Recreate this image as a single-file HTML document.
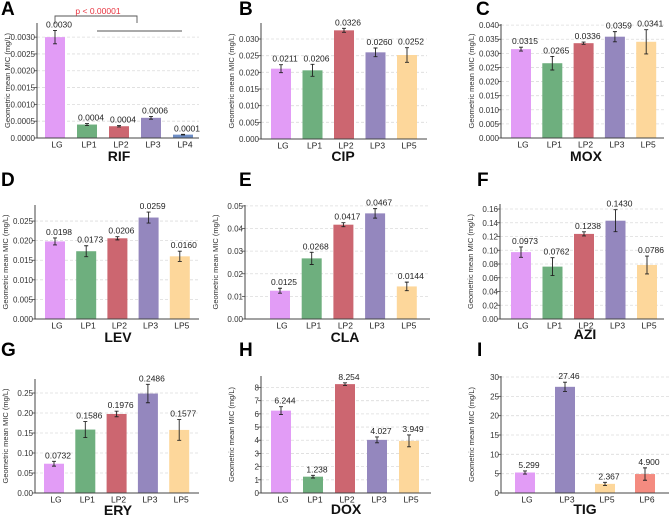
<!DOCTYPE html>
<html><head><meta charset="utf-8">
<style>
html,body{margin:0;padding:0;background:#fff;}
svg{display:block;font-family:"Liberation Sans",Arial,sans-serif;}
</style></head>
<body>
<svg id="fig" width="669" height="515" viewBox="0 0 669 515"></svg>
<script>
// ---- data (per panel) ----
const catsA=["LG","LP1","LP2","LP3","LP4"];
const valsA=[0.0030,0.0004,0.00035,0.0006,0.0001];
const errA=[0.0002,0.00003,0.00002,0.00004,0.00001];
const labsA=["0.0030","0.0004","0.0004","0.0006","0.0001"];
const ticksA=[0,0.0005,0.0010,0.0015,0.0020,0.0025,0.0030];

const catsB=["LG","LP1","LP2","LP3","LP5"];
const valsB=[0.0211,0.0206,0.0326,0.0260,0.0252];
const errB=[0.0012,0.0018,0.0006,0.0013,0.0022];
const labsB=["0.0211","0.0206","0.0326","0.0260","0.0252"];
const ticksB=[0,0.005,0.010,0.015,0.020,0.025,0.030];

const catsC=["LG","LP1","LP2","LP3","LP5"];
const valsC=[0.0315,0.0265,0.0336,0.0359,0.0341];
const errC=[0.0007,0.0024,0.0004,0.0018,0.0043];
const labsC=["0.0315","0.0265","0.0336","0.0359","0.0341"];
const ticksC=[0,0.005,0.010,0.015,0.020,0.025,0.030,0.035,0.040];

const catsD=["LG","LP1","LP2","LP3","LP5"];
const valsD=[0.0198,0.0173,0.0206,0.0259,0.0160];
const errD=[0.0009,0.0014,0.0004,0.0014,0.0013];
const labsD=["0.0198","0.0173","0.0206","0.0259","0.0160"];
const ticksD=[0,0.005,0.010,0.015,0.020,0.025];

const catsE=["LG","LP1","LP2","LP3","LP5"];
const valsE=[0.0125,0.0268,0.0417,0.0467,0.0144];
const errE=[0.0011,0.0027,0.0009,0.0021,0.0019];
const labsE=["0.0125","0.0268","0.0417","0.0467","0.0144"];
const ticksE=[0,0.01,0.02,0.03,0.04,0.05];

const catsF=["LG","LP1","LP2","LP3","LP5"];
const valsF=[0.0973,0.0762,0.1238,0.1430,0.0786];
const errF=[0.0075,0.013,0.003,0.016,0.013];
const labsF=["0.0973","0.0762","0.1238","0.1430","0.0786"];
const ticksF=[0,0.02,0.04,0.06,0.08,0.10,0.12,0.14,0.16];

const catsG=["LG","LP1","LP2","LP3","LP5"];
const valsG=[0.0732,0.1586,0.1976,0.2486,0.1577];
const errG=[0.006,0.02,0.007,0.023,0.026];
const labsG=["0.0732","0.1586","0.1976","0.2486","0.1577"];
const ticksG=[0,0.05,0.10,0.15,0.20,0.25];

const catsH=["LG","LP1","LP2","LP3","LP5"];
const valsH=[6.244,1.238,8.254,4.027,3.949];
const errH=[0.3,0.1,0.1,0.22,0.45];
const labsH=["6.244","1.238","8.254","4.027","3.949"];
const ticksH=[0,1,2,3,4,5,6,7,8];

const catsI=["LG","LP3","LP5","LP6"];
const valsI=[5.299,27.46,2.367,4.900];
const errI=[0.4,1.2,0.4,1.6];
const labsI=["5.299","27.46","2.367","4.900"];
const ticksI=[0,5,10,15,20,25,30];

const COLORS={LG:"#e29cf6",LP1:"#6eaf7e",LP2:"#cc6670",LP3:"#9487be",LP4:"#6e8ec6",LP5:"#fdd79b",LP6:"#f48b80"};
const NS="http://www.w3.org/2000/svg";
const svg=document.getElementById('fig');
function mk(tag,attrs,parent,text){
  const e=document.createElementNS(NS,tag);
  for(const k in attrs)e.setAttribute(k,attrs[k]);
  if(text!==undefined)e.textContent=text;
  (parent||svg).appendChild(e);return e;
}

function panel(id,letter,title,cats,vals,errs,labs,ticks,dec,L){
  const g=mk('g',{});
  
  
  const y=v=>L.bottom-(v/L.ymax)*(L.bottom-L.top);
  const x=i=>L.c0+i*L.step;
  const t=mk('text',{x:L.lx,y:L.ly,'font-size':19,'font-weight':'bold',fill:'#000'},g,letter);
  
  
  ticks.forEach(v=>{
    if(v>0){
      const gl=mk('line',{x1:L.left,x2:L.right,y1:y(v),y2:y(v),stroke:'#dcdcdc','stroke-width':0.8,'stroke-dasharray':'3,2'},g);
      
      
    }
    const tk=mk('line',{x1:L.left-3,x2:L.left,y1:y(v),y2:y(v),stroke:'#444','stroke-width':0.8},g);
    
    
    const tl=mk('text',{x:L.left-2,y:y(v)+3,'font-size':8,'text-anchor':'end',fill:'#333'},g,v.toFixed(dec));
    
    
  });
  cats.forEach((c,i)=>{
    const cx=x(i),v=vals[i],e=errs[i];
    const b=mk('rect',{x:cx-10,y:y(v),width:20,height:L.bottom-y(v),fill:COLORS[c]},g);
    
    
    const eb=mk('path',{d:`M${cx},${y(v+e)}V${y(v-e)}M${cx-2},${y(v+e)}H${cx+2}M${cx-2},${y(v-e)}H${cx+2}`,stroke:'#222','stroke-width':0.9,fill:'none'},g);
    
    
    const vl=mk('text',{x:cx+4,y:y(v+e)-3,'font-size':8.5,'text-anchor':'middle',fill:'#222'},g,labs[i]);
    
    
    const cl=mk('text',{x:cx+2,y:L.bottom+9.5,'font-size':8.5,'text-anchor':'middle',fill:'#222'},g,c);
    
    
  });
  const ax=mk('path',{d:`M${L.left},${L.top}V${L.bottom}H${L.right}`,stroke:'#444','stroke-width':1,fill:'none'},g);
  
  
  const cy=(L.top+L.bottom)/2;
  const yt=mk('text',{x:L.left-27,y:cy,'font-size':7.5,'text-anchor':'middle',fill:'#333',transform:`rotate(-90 ${L.left-27} ${cy})`},g,'Geometric mean MIC (mg/L)');
  
  
  const xt=mk('text',{x:L.tx,y:L.ty,'font-size':14,'font-weight':'bold','text-anchor':'middle',fill:'#111'},g,title);
  
  
}

panel('a','A','RIF',catsA,valsA,errA,labsA,ticksA,4,{left:37,right:199,top:23,bottom:138,ymax:0.00342,c0:55,step:32,lx:1,ly:15,tx:119,ty:161});
panel('b','B','CIP',catsB,valsB,errB,labsB,ticksB,3,{left:261,right:427,top:23,bottom:139,ymax:0.0348,c0:281,step:31.5,lx:239,ly:15,tx:343,ty:161});
panel('c','C','MOX',catsC,valsC,errC,labsC,ticksC,3,{left:501,right:664,top:24,bottom:138,ymax:0.0404,c0:521,step:31.3,lx:476,ly:15,tx:586,ty:161});
panel('d','D','LEV',catsD,valsD,errD,labsD,ticksD,3,{left:35,right:199,top:205,bottom:319,ymax:0.0291,c0:55,step:31.2,lx:1,ly:186,tx:118,ty:342});
panel('e','E','CLA',catsE,valsE,errE,labsE,ticksE,2,{left:245,right:430,top:205,bottom:319,ymax:0.0504,c0:280,step:31.7,lx:239,ly:186,tx:345,ty:342});
panel('f','F','AZI',catsF,valsF,errF,labsF,ticksF,2,{left:500,right:664,top:204,bottom:319,ymax:0.1673,c0:521,step:31.5,lx:477,ly:186,tx:585,ty:339});
panel('g','G','ERY',catsG,valsG,errG,labsG,ticksG,2,{left:35,right:199,top:379,bottom:493,ymax:0.285,c0:54,step:31.3,lx:1,ly:356,tx:118,ty:515});
panel('h','H','DOX',catsH,valsH,errH,labsH,ticksH,0,{left:261,right:431,top:376,bottom:493,ymax:8.87,c0:281,step:32,lx:239,ly:356,tx:346,ty:514});
panel('i','I','TIG',catsI,valsI,errI,labsI,ticksI,0,{left:501,right:669,top:376,bottom:493,ymax:30.26,c0:525,step:40,lx:477,ly:356,tx:585,ty:514});

// significance bracket on panel A
const sig=mk('path',{d:'M55,24V16H137V23M97,31H182',stroke:'#555','stroke-width':0.9,fill:'none'});


const pt=mk('text',{x:98,y:14,'font-size':8.5,'text-anchor':'middle',fill:'#e8333f'},svg,'p < 0.00001');


</script>
</body></html>
